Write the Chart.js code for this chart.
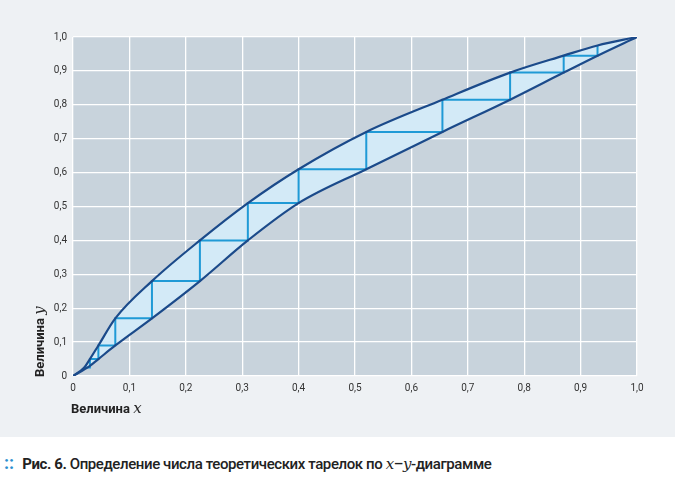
<!DOCTYPE html>
<html><head><meta charset="utf-8">
<script src="https://cdn.jsdelivr.net/npm/chart.js@4"></script>
<style>
body{margin:0;background:#fff;width:675px;height:477px;overflow:hidden}
#wrap{position:absolute;left:0;top:0;width:675px;height:437px;background:#eef1f4}
#cap{position:absolute;left:4px;top:452px;font-family:"Roboto",sans-serif;font-size:15px;color:#222;font-weight:bold;letter-spacing:-0.4px;white-space:nowrap}
#cap .d{color:#2a8fd0;font-size:18px;letter-spacing:0;margin-right:8px}
#cap .t{font-weight:500}
#cap i{font-family:"DejaVu Serif",serif;font-weight:normal}
</style></head><body>
<div id="wrap"><canvas id="c" width="675" height="437"></canvas></div>
<div id="cap"><span class="d">::</span>Рис. 6.<span class="t"> Определение числа теоретических тарелок по <i>x</i>–<i>y</i>-диаграмме</span></div>
<script>
// равновесная кривая
var eqX = [0, 0.02, 0.03, 0.045, 0.075, 0.14, 0.225, 0.31, 0.40, 0.52, 0.655, 0.775, 0.87, 0.93, 1];
var eqY = [0, 0.025, 0.05, 0.09, 0.17, 0.28, 0.40, 0.51, 0.61, 0.72, 0.815, 0.895, 0.945, 0.975, 1];
// рабочая линия
var opX = [0, 0.03, 0.045, 0.075, 0.14, 0.225, 0.31, 0.40, 0.52, 0.655, 0.775, 0.87, 0.93, 1];
var opY = [0, 0.03, 0.05, 0.09, 0.17, 0.28, 0.40, 0.51, 0.61, 0.72, 0.815, 0.895, 0.945, 1];
// ступени
var stX = [0.93, 0.87, 0.775, 0.655, 0.52, 0.40, 0.31, 0.225, 0.14, 0.075, 0.045, 0.03, 0.02];
var stY = [0.975, 0.945, 0.895, 0.815, 0.72, 0.61, 0.51, 0.40, 0.28, 0.17, 0.09, 0.05, 0.025];
var ticks = [0, 0.1, 0.2, 0.3, 0.4, 0.5, 0.6, 0.7, 0.8, 0.9, 1.0];

function pts(xs, ys){ return xs.map(function(x, k){ return {x: x, y: ys[k]}; }); }
var stairs = [];
for (var k = 0; k < stX.length - 1; k++){
  stairs.push({x: stX[k], y: stY[k]});
  stairs.push({x: stX[k], y: stY[k+1]});
  stairs.push({x: stX[k+1], y: stY[k+1]});
}

function fmt(v){ return v === 0 ? '0' : v.toFixed(1).replace('.', ','); }

var bg = {
  id: 'bg',
  beforeDraw: function(ch){
    var a = ch.chartArea, c = ch.ctx;
    c.save(); c.fillStyle = '#c8d3dc';
    c.fillRect(a.left, a.top, a.right - a.left, a.bottom - a.top);
    c.restore();
  },
  afterDraw: function(ch){
    var c = ch.ctx;
    c.save(); c.fillStyle = '#222';
    c.font = 'bold 13px Roboto, sans-serif';
    c.fillText('Величина ', 71, 413);
    var w = c.measureText('Величина ').width;
    c.font = 'italic 15px "DejaVu Serif", serif';
    c.fillText('x', 71 + w, 413);
    c.translate(44, 377); c.rotate(-Math.PI/2);
    c.font = 'bold 13px Roboto, sans-serif';
    c.fillText('Величина ', 0, 0);
    c.font = 'italic 15px "DejaVu Serif", serif';
    c.fillText('y', w, 0);
    c.restore();
  }
};

new Chart(document.getElementById('c'), {
  type: 'line',
  data: { datasets: [
    {data: pts(eqX, eqY), borderColor: '#1b4a8a', borderWidth: 2.2, pointRadius: 0, cubicInterpolationMode: 'monotone', fill: '+1', backgroundColor: '#d3eaf7'},
    {data: pts(opX, opY), borderColor: '#1b4a8a', borderWidth: 2.2, pointRadius: 0, cubicInterpolationMode: 'monotone', fill: false},
    {data: stairs, borderColor: '#1f9ad6', borderWidth: 2, pointRadius: 0, tension: 0, fill: false}
  ]},
  options: {
    animation: false, responsive: false,
    layout: {padding: {top: 37, right: 38}},
    plugins: {legend: {display: false}, tooltip: {enabled: false}, filler: {drawTime: 'beforeDatasetsDraw'}},
    scales: {
      x: {type: 'linear', min: 0, max: 1,
        afterBuildTicks: function(s){ s.ticks = ticks.map(function(v){ return {value: v}; }); },
        afterFit: function(s){ s.height = 61; },
        grid: {color: '#ffffff', lineWidth: 1.3, drawTicks: false}, border: {display: false},
        ticks: {padding: 6, color: '#333', font: {family: 'Roboto', size: 10}, callback: fmt}},
      y: {type: 'linear', min: 0, max: 1,
        afterBuildTicks: function(s){ s.ticks = ticks.map(function(v){ return {value: v}; }); },
        afterFit: function(s){ s.width = 73; },
        grid: {color: '#ffffff', lineWidth: 1.3, drawTicks: false}, border: {display: false},
        ticks: {padding: 6, color: '#333', font: {family: 'Roboto', size: 10}, callback: fmt}}
    }
  },
  plugins: [bg]
});
</script></body></html>
